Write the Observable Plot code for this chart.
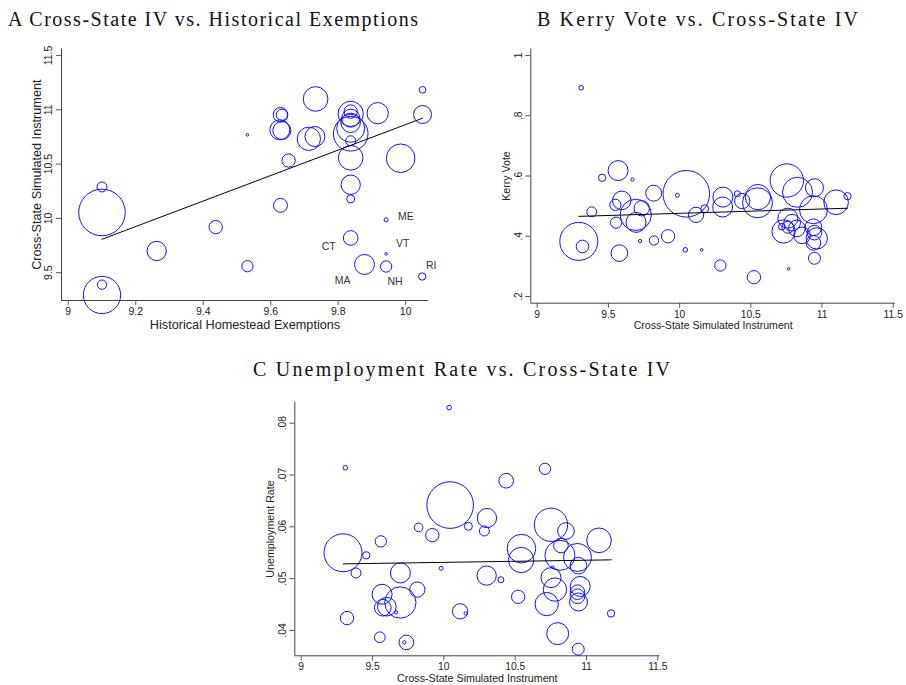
<!DOCTYPE html>
<html><head><meta charset="utf-8">
<script src="https://cdn.jsdelivr.net/npm/d3@7"></script>
<script src="https://cdn.jsdelivr.net/npm/@observablehq/plot@0.6"></script>
<style>
body{margin:0;background:#fff;}
#wrap{position:relative;width:906px;height:685px;background:#fff;overflow:hidden;}
#wrap > svg{position:absolute;}
</style></head><body><div id="wrap"></div>
<script>
// ---------- Panel A: Cross-State IV vs. Historical Exemptions ----------
const aHist = [9.100,9.100,9.100,9.100,9.262,9.437,9.531,9.531,9.629,9.629,9.633,9.627,9.633,9.653,9.733,9.713,9.731,
  9.837,9.837,9.837,9.837,9.837,9.837,9.837,9.837,9.837,9.837,9.837,9.878,9.917,9.985,10.050,10.050,9.942,9.942,9.942,10.049];
const aInst = [10.055,10.290,9.295,9.390,9.700,9.920,9.560,10.770,10.120,10.954,10.954,10.816,10.810,10.533,11.100,10.733,10.754,
  10.963,10.984,10.923,10.880,10.830,10.780,10.715,10.558,10.310,10.180,9.820,9.576,10.969,10.554,11.184,10.957,9.987,9.674,9.557,9.465];
const aPop = [34,1.56,21.8,1.36,5.84,2.78,2.0,0.11,3.06,3.36,2.0,6.25,5.06,2.78,9.5,8.5,6.25,
  10.0,2.78,5.06,5.84,12.25,18.8,1.56,9.5,5.84,1.0,3.36,6.25,7.1,12.8,0.69,5.06,0.25,0.11,2.0,0.84];
const aLabStates = ["ME","VT","CT","MA","NH","RI"];
const aLabX = [9.942,9.942,9.837,9.878,9.942,10.049];
const aLabY = [9.987,9.674,9.820,9.576,9.557,9.465];
const aFitX = [9.100,10.050];
const aFitY = [9.808,10.923];
const aXTicks = [9,9.2,9.4,9.6,9.8,10];
const aXTickLabels = ["9","9.2","9.4","9.6","9.8","10"];
const aYTicks = [9.5,10,10.5,11,11.5];
const aYTickLabels = ["9.5","10","10.5","11","11.5"];

// ---------- Panel B: Kerry Vote vs. Cross-State IV ----------
const bInst = [9.309,9.292,9.318,9.383,9.456,9.568,9.549,9.554,9.594,9.577,9.669,9.692,9.694,9.734,9.722,9.818,9.820,9.919,9.984,
  10.047,10.040,10.115,10.176,10.155,10.286,10.304,10.302,10.405,10.440,10.547,10.550,10.522,
  10.718,10.730,10.760,10.790,10.760,10.823,10.860,10.940,10.947,10.963,10.940,10.947,10.940,10.947,10.828,10.753,11.099,11.179,10.765];
const bKerry = [0.893,0.383,0.366,0.481,0.594,0.618,0.504,0.445,0.519,0.344,0.588,0.471,0.446,0.493,0.384,0.543,0.386,0.400,0.536,
  0.541,0.355,0.471,0.491,0.355,0.303,0.530,0.497,0.541,0.517,0.511,0.530,0.264,
  0.432,0.416,0.460,0.445,0.430,0.426,0.403,0.430,0.412,0.393,0.378,0.327,0.488,0.561,0.546,0.585,0.513,0.533,0.292];
const bPop = [0.34,22.6,2.5,1.56,0.84,6.25,2.0,2.0,5.44,4.34,0.17,15.3,6.25,3.67,0.17,4.0,1.36,2.78,0.25,
  34,0.34,3.67,1.0,0.11,2.0,6.25,6.25,0.56,3.67,14.1,10.0,2.78,
  0.69,8.5,6.25,4.34,2.25,4.34,4.34,4.34,3.36,7.1,3.36,2.25,12.25,5.06,14.1,17.4,9.5,0.84,0.11];
const bFitX = [9.292,11.179];
const bFitY = [0.466,0.493];
const bXTicks = [9,9.5,10,10.5,11,11.5];
const bXTickLabels = ["9","9.5","10","10.5","11","11.5"];
const bYTicks = [0.2,0.4,0.6,0.8,1];
const bYTickLabels = [".2",".4",".6",".8","1"];

// ---------- Panel C: Unemployment Rate vs. Cross-State IV ----------
const cInst = [9.309,9.293,9.321,9.384,9.456,9.558,9.567,9.572,9.600,9.551,9.665,9.695,9.695,9.723,9.737,9.814,9.823,9.919,9.981,
  10.037,10.044,10.114,10.153,10.172,10.284,10.302,10.300,10.400,10.437,10.521,10.544,10.542,
  10.709,10.751,10.763,10.751,10.721,10.779,10.798,10.814,10.821,10.856,10.937,10.944,10.956,10.937,10.937,10.944,10.942,11.088,11.172];
const cUnemp = [0.0714,0.0550,0.0424,0.0511,0.0545,0.0572,0.0470,0.0444,0.0446,0.0387,0.0435,0.0454,0.0511,0.0377,0.0377,0.0479,0.0599,0.0584,0.0520,
  0.0830,0.0642,0.0437,0.0433,0.0601,0.0592,0.0617,0.0506,0.0498,0.0689,0.0465,0.0558,0.0536,
  0.0712,0.0604,0.0522,0.0502,0.0451,0.0479,0.0394,0.0545,0.0564,0.0592,0.0541,0.0525,0.0485,0.0474,0.0466,0.0455,0.0364,0.0574,0.0433];
const cPop = [0.34,22.6,2.78,1.56,0.84,2.0,6.25,4.34,5.44,1.78,0.17,15.3,6.25,0.17,3.36,3.67,1.17,2.78,0.25,
  0.34,34,3.67,0.17,1.0,1.56,5.84,5.84,0.56,3.36,2.78,12.8,10.0,
  2.0,17.4,0.11,6.25,8.5,8.5,7.56,14.1,3.36,4.34,12.25,4.34,6.25,3.36,3.36,5.06,2.25,9.5,0.84];
const cFitX = [9.295,11.174];
const cFitY = [0.05286,0.05363];
const cXTicks = [9,9.5,10,10.5,11,11.5];
const cXTickLabels = ["9","9.5","10","10.5","11","11.5"];
const cYTicks = [0.04,0.05,0.06,0.07,0.08];
const cYTickLabels = [".04",".05",".06",".07",".08"];

const titles = ["A Cross-State IV vs. Historical Exemptions","B Kerry Vote vs. Cross-State IV","C Unemployment Rate vs. Cross-State IV"];

// ---------- drawing ----------
const wrap = document.getElementById("wrap");
const SANS = "'Liberation Sans', Arial, Helvetica, sans-serif";
const BLUE = "#1010ff";

function fmt(ticks, labels){ return v => { const i = ticks.findIndex(t => Math.abs(t - v) < 1e-9); return i >= 0 ? labels[i] : ""; }; }

function panel(o){
  const marks = [
    Plot.ruleX([o.xDomain[0]], {stroke:"#444", strokeWidth:1}),
    Plot.ruleY([o.yDomain[0]], {stroke:"#444", strokeWidth:1}),
    Plot.axisX({ticks:o.xTicks, tickFormat:fmt(o.xTicks,o.xLabels), tickSize:5, tickPadding:2, stroke:"#555", fill:"#222", fontSize:o.tickFont, label:null}),
    Plot.axisY({ticks:o.yTicks, tickFormat:fmt(o.yTicks,o.yLabels), tickSize:5, tickRotate:-90, tickPadding:o.yPad, stroke:"#555", fill:"#222", fontSize:o.tickFont, label:null}),
    Plot.dot(o.x, {x:o.x, y:o.y, r:o.w, stroke:BLUE, strokeWidth:1, fill:"none"}),
    Plot.line(o.fitX, {x:o.fitX, y:o.fitY, stroke:"#000", strokeWidth:1}),
    Plot.text([o.xTitle], {frameAnchor:"bottom", dy:o.xTitleDy, text:d=>d, fontSize:o.titleFont, textAnchor:"middle", lineAnchor:"middle", fill:"#222"}),
    Plot.text([o.yTitle], {frameAnchor:"left", dx:-o.yTitleDx, rotate:-90, text:d=>d, fontSize:o.titleFont, textAnchor:"middle", lineAnchor:"middle", fill:"#222"})
  ].concat(o.extra || []);
  const svg = Plot.plot({
    width:o.width, height:o.height,
    marginLeft:o.ml, marginRight:o.mr, marginTop:o.mt, marginBottom:o.mb,
    x:{domain:o.xDomain}, y:{domain:o.yDomain},
    r:{type:"sqrt", domain:[0,34], range:[0,23.3]},
    style:{fontFamily:SANS, background:"transparent", overflow:"visible", color:"#222"},
    marks
  });
  svg.style.left = o.left + "px";
  svg.style.top = o.top + "px";
  wrap.appendChild(svg);
}

const labelStyle = {
  ME:{dx:12, dy:-3, textAnchor:"start"},
  VT:{dx:10, dy:-10, textAnchor:"start"},
  CT:{dx:-15, dy:9, textAnchor:"end"},
  MA:{dx:-22, dy:16, textAnchor:"middle"},
  NH:{dx:9, dy:15, textAnchor:"middle"},
  RI:{dx:9, dy:-11, textAnchor:"middle"}
};
const aLabelMarks = aLabStates.map((s,i) => Plot.text([i], {x:i=>aLabX[i], y:i=>aLabY[i], text:i=>aLabStates[i], fontSize:10.5, fill:"#333", ...labelStyle[s]}));

panel({left:0, top:40, width:450, height:300, ml:61, mr:22, mt:8.3, mb:40,
  xDomain:[8.980,10.0676], yDomain:[9.244,11.562],
  x:aHist, y:aInst, w:aPop, fitX:aFitX, fitY:aFitY,
  xTicks:aXTicks, xLabels:aXTickLabels, yTicks:aYTicks, yLabels:aYTickLabels,
  tickFont:10.5, yPad:5, titleFont:12.7, xTitleDy:24, yTitleDx:25,
  xTitle:"Historical Homestead Exemptions", yTitle:"Cross-State Simulated Instrument", extra:aLabelMarks});

panel({left:453, top:40, width:453, height:300, ml:77.3, mr:11, mt:8.3, mb:37.3,
  xDomain:[8.955,11.516], yDomain:[0.1778,1.0222],
  x:bInst, y:bKerry, w:bPop, fitX:bFitX, fitY:bFitY,
  xTicks:bXTicks, xLabels:bXTickLabels, yTicks:bYTicks, yLabels:bYTickLabels,
  tickFont:10.3, yPad:4, titleFont:10.6, xTitleDy:22.3, yTitleDx:24.6,
  xTitle:"Cross-State Simulated Instrument", yTitle:"Kerry Vote"});

panel({left:200, top:390, width:470, height:295, ml:94.3, mr:10.7, mt:11.7, mb:29.7,
  xDomain:[8.955,11.514], yDomain:[0.03512,0.08405],
  x:cInst, y:cUnemp, w:cPop, fitX:cFitX, fitY:cFitY,
  xTicks:cXTicks, xLabels:cXTickLabels, yTicks:cYTicks, yLabels:cYTickLabels,
  tickFont:10.3, yPad:4, titleFont:10.7, xTitleDy:22.4, yTitleDx:24.3,
  xTitle:"Cross-State Simulated Instrument", yTitle:"Unemployment Rate"});

// panel titles (serif, as in the original)
const ov = d3.select(wrap).append("svg").attr("width",906).attr("height",685).style("left","0px").style("top","0px").style("pointer-events","none");
const tpos = [{x:8,y:25.5,len:410},{x:537,y:25.5,len:321},{x:253,y:376,len:417}];
titles.forEach((t,i) => {
  ov.append("text").attr("x",tpos[i].x).attr("y",tpos[i].y)
    .attr("font-family","'Liberation Serif', 'Times New Roman', serif").attr("font-size",20)
    .attr("fill","#111").attr("textLength",tpos[i].len).attr("lengthAdjust","spacing")
    .text(t);
});
</script></body></html>
